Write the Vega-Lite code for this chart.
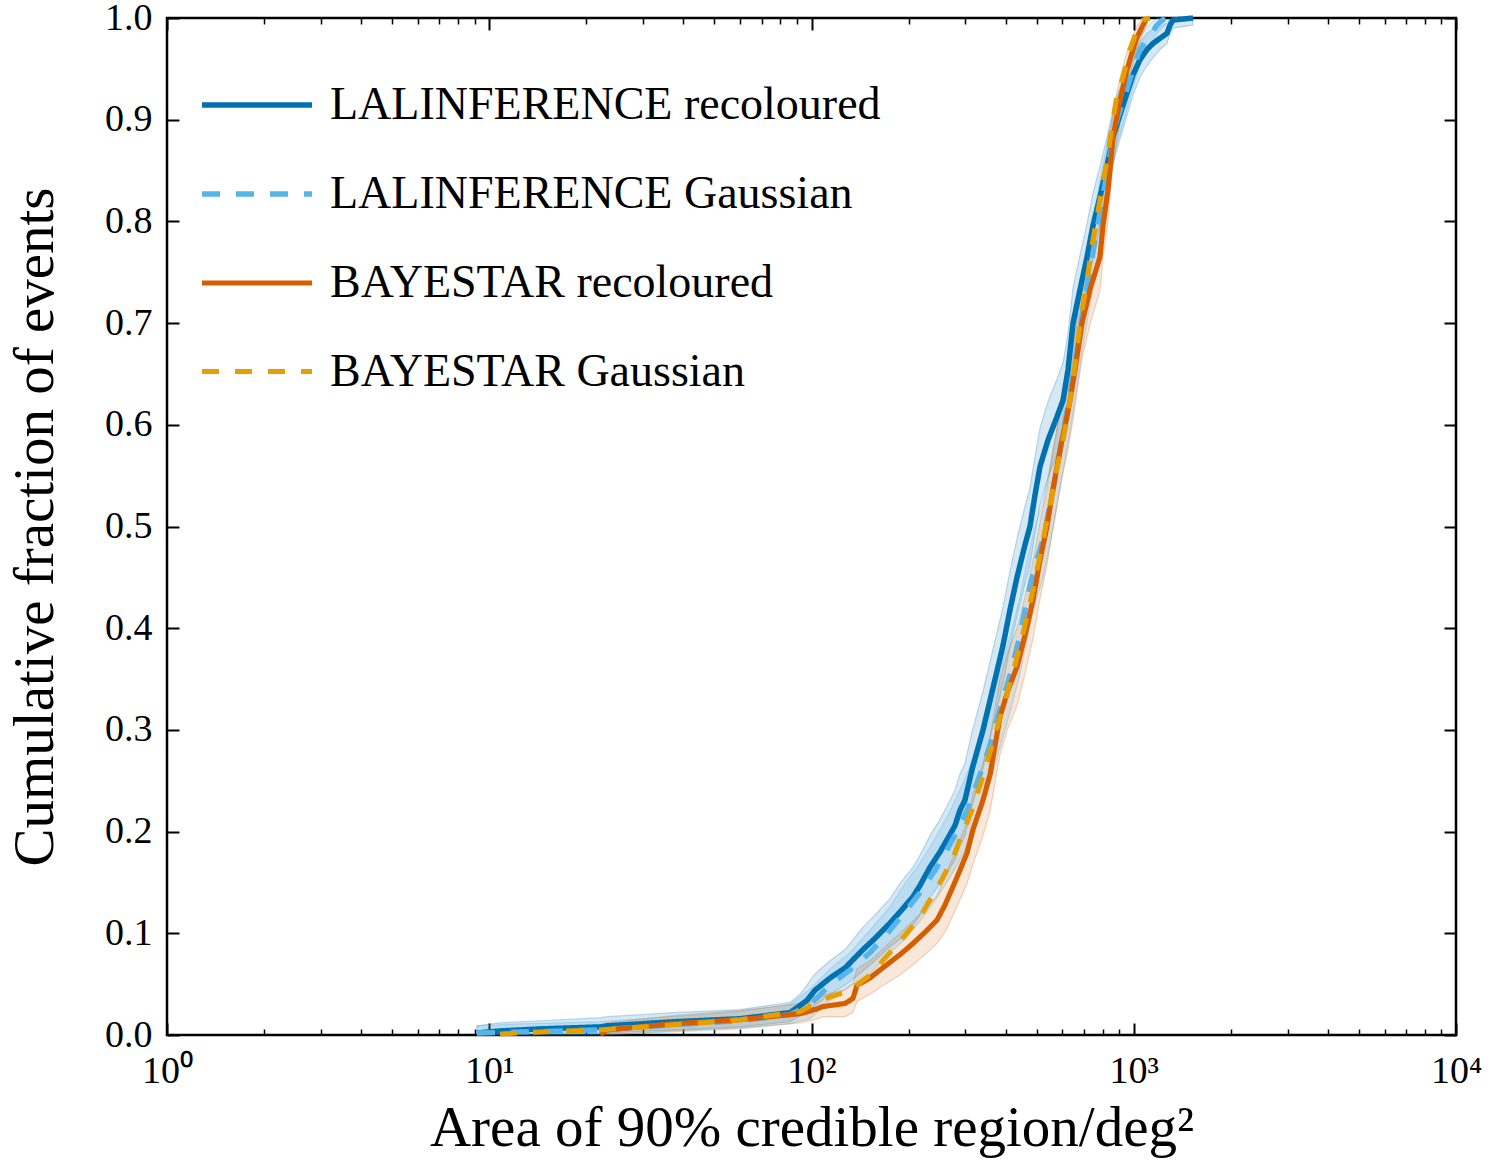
{
  "$schema": "https://vega.github.io/schema/vega-lite/v6.json",
  "width": 1289,
  "height": 1017,
  "autosize": {"type": "none"},
  "padding": {"left": 167, "top": 18, "right": 45, "bottom": 125},
  "background": "white",
  "config": {
    "view": {"stroke": "black", "strokeWidth": 2.5},
    "font": "Liberation Serif",
    "axis": {"labelFont": "Liberation Serif", "titleFont": "Liberation Serif", "labelColor": "black", "titleColor": "black", "tickColor": "black", "grid": false, "domain": false, "titleFontWeight": "normal"}
  },
  "datasets": {
    "curves": [
      {"s":"LALINFERENCE recoloured","A":9.16,"F":0.002,"lo":0,"hi":0.009},
      {"s":"LALINFERENCE recoloured","A":10.8,"F":0.004,"lo":0,"hi":0.012},
      {"s":"LALINFERENCE recoloured","A":14.4,"F":0.006,"lo":0,"hi":0.014},
      {"s":"LALINFERENCE recoloured","A":22.1,"F":0.008,"lo":0.001,"hi":0.017},
      {"s":"LALINFERENCE recoloured","A":23.2,"F":0.009,"lo":0.002,"hi":0.018},
      {"s":"LALINFERENCE recoloured","A":37.2,"F":0.013,"lo":0.005,"hi":0.022},
      {"s":"LALINFERENCE recoloured","A":60.0,"F":0.016,"lo":0.008,"hi":0.025},
      {"s":"LALINFERENCE recoloured","A":85.8,"F":0.022,"lo":0.013,"hi":0.032},
      {"s":"LALINFERENCE recoloured","A":92.1,"F":0.029,"lo":0.019,"hi":0.040},
      {"s":"LALINFERENCE recoloured","A":96.8,"F":0.034,"lo":0.020,"hi":0.049},
      {"s":"LALINFERENCE recoloured","A":102.5,"F":0.044,"lo":0.029,"hi":0.060},
      {"s":"LALINFERENCE recoloured","A":114.1,"F":0.056,"lo":0.040,"hi":0.073},
      {"s":"LALINFERENCE recoloured","A":127.1,"F":0.066,"lo":0.049,"hi":0.084},
      {"s":"LALINFERENCE recoloured","A":144.5,"F":0.084,"lo":0.063,"hi":0.106},
      {"s":"LALINFERENCE recoloured","A":157.4,"F":0.095,"lo":0.073,"hi":0.118},
      {"s":"LALINFERENCE recoloured","A":175.2,"F":0.110,"lo":0.087,"hi":0.134},
      {"s":"LALINFERENCE recoloured","A":188.2,"F":0.121,"lo":0.094,"hi":0.149},
      {"s":"LALINFERENCE recoloured","A":206.5,"F":0.136,"lo":0.108,"hi":0.165},
      {"s":"LALINFERENCE recoloured","A":217.1,"F":0.147,"lo":0.118,"hi":0.177},
      {"s":"LALINFERENCE recoloured","A":233.2,"F":0.165,"lo":0.135,"hi":0.196},
      {"s":"LALINFERENCE recoloured","A":250.5,"F":0.180,"lo":0.149,"hi":0.212},
      {"s":"LALINFERENCE recoloured","A":263.4,"F":0.192,"lo":0.160,"hi":0.225},
      {"s":"LALINFERENCE recoloured","A":278.8,"F":0.206,"lo":0.172,"hi":0.241},
      {"s":"LALINFERENCE recoloured","A":288.9,"F":0.221,"lo":0.186,"hi":0.257},
      {"s":"LALINFERENCE recoloured","A":299.4,"F":0.231,"lo":0.196,"hi":0.267},
      {"s":"LALINFERENCE recoloured","A":314.8,"F":0.261,"lo":0.225,"hi":0.298},
      {"s":"LALINFERENCE recoloured","A":340.6,"F":0.300,"lo":0.263,"hi":0.338},
      {"s":"LALINFERENCE recoloured","A":358.1,"F":0.329,"lo":0.292,"hi":0.367},
      {"s":"LALINFERENCE recoloured","A":392.9,"F":0.383,"lo":0.346,"hi":0.421},
      {"s":"LALINFERENCE recoloured","A":413.0,"F":0.418,"lo":0.381,"hi":0.456},
      {"s":"LALINFERENCE recoloured","A":434.2,"F":0.450,"lo":0.412,"hi":0.488},
      {"s":"LALINFERENCE recoloured","A":459.8,"F":0.482,"lo":0.444,"hi":0.520},
      {"s":"LALINFERENCE recoloured","A":476.4,"F":0.500,"lo":0.462,"hi":0.538},
      {"s":"LALINFERENCE recoloured","A":493.8,"F":0.531,"lo":0.493,"hi":0.569},
      {"s":"LALINFERENCE recoloured","A":511.9,"F":0.559,"lo":0.521,"hi":0.597},
      {"s":"LALINFERENCE recoloured","A":541.9,"F":0.585,"lo":0.548,"hi":0.623},
      {"s":"LALINFERENCE recoloured","A":577.9,"F":0.608,"lo":0.571,"hi":0.645},
      {"s":"LALINFERENCE recoloured","A":603.2,"F":0.624,"lo":0.587,"hi":0.661},
      {"s":"LALINFERENCE recoloured","A":625.2,"F":0.654,"lo":0.618,"hi":0.690},
      {"s":"LALINFERENCE recoloured","A":648.0,"F":0.700,"lo":0.665,"hi":0.735},
      {"s":"LALINFERENCE recoloured","A":681.3,"F":0.733,"lo":0.699,"hi":0.767},
      {"s":"LALINFERENCE recoloured","A":716.2,"F":0.765,"lo":0.732,"hi":0.798},
      {"s":"LALINFERENCE recoloured","A":747.3,"F":0.796,"lo":0.764,"hi":0.828},
      {"s":"LALINFERENCE recoloured","A":785.6,"F":0.824,"lo":0.794,"hi":0.854},
      {"s":"LALINFERENCE recoloured","A":826.0,"F":0.855,"lo":0.827,"hi":0.883},
      {"s":"LALINFERENCE recoloured","A":862.2,"F":0.883,"lo":0.857,"hi":0.909},
      {"s":"LALINFERENCE recoloured","A":906.4,"F":0.905,"lo":0.881,"hi":0.929},
      {"s":"LALINFERENCE recoloured","A":952.8,"F":0.926,"lo":0.904,"hi":0.948},
      {"s":"LALINFERENCE recoloured","A":994.7,"F":0.944,"lo":0.924,"hi":0.964},
      {"s":"LALINFERENCE recoloured","A":1045.6,"F":0.959,"lo":0.942,"hi":0.976},
      {"s":"LALINFERENCE recoloured","A":1099.2,"F":0.969,"lo":0.953,"hi":0.985},
      {"s":"LALINFERENCE recoloured","A":1147.6,"F":0.975,"lo":0.961,"hi":0.989},
      {"s":"LALINFERENCE recoloured","A":1206.4,"F":0.980,"lo":0.969,"hi":0.991},
      {"s":"LALINFERENCE recoloured","A":1268.5,"F":0.985,"lo":0.975,"hi":0.995},
      {"s":"LALINFERENCE recoloured","A":1296,"F":0.993,"lo":0.985,"hi":1.0},
      {"s":"LALINFERENCE recoloured","A":1324,"F":0.998,"lo":0.990,"hi":1.0},
      {"s":"LALINFERENCE recoloured","A":1527,"F":1.0,"lo":0.993,"hi":1.0},

      {"s":"LALINFERENCE Gaussian","A":9.16,"F":0.002,"lo":0,"hi":0.009},
      {"s":"LALINFERENCE Gaussian","A":12.46,"F":0.003,"lo":0,"hi":0.011},
      {"s":"LALINFERENCE Gaussian","A":22.1,"F":0.005,"lo":0,"hi":0.013},
      {"s":"LALINFERENCE Gaussian","A":37.2,"F":0.010,"lo":0.003,"hi":0.018},
      {"s":"LALINFERENCE Gaussian","A":60.0,"F":0.014,"lo":0.006,"hi":0.023},
      {"s":"LALINFERENCE Gaussian","A":85.8,"F":0.020,"lo":0.011,"hi":0.030},
      {"s":"LALINFERENCE Gaussian","A":98.9,"F":0.030,"lo":0.016,"hi":0.045},
      {"s":"LALINFERENCE Gaussian","A":114.1,"F":0.049,"lo":0.034,"hi":0.065},
      {"s":"LALINFERENCE Gaussian","A":131.7,"F":0.064,"lo":0.048,"hi":0.081},
      {"s":"LALINFERENCE Gaussian","A":151.9,"F":0.081,"lo":0.060,"hi":0.103},
      {"s":"LALINFERENCE Gaussian","A":175.2,"F":0.103,"lo":0.081,"hi":0.126},
      {"s":"LALINFERENCE Gaussian","A":195.1,"F":0.121,"lo":0.094,"hi":0.149},
      {"s":"LALINFERENCE Gaussian","A":217.1,"F":0.140,"lo":0.112,"hi":0.169},
      {"s":"LALINFERENCE Gaussian","A":241.7,"F":0.162,"lo":0.132,"hi":0.193},
      {"s":"LALINFERENCE Gaussian","A":265.2,"F":0.184,"lo":0.152,"hi":0.216},
      {"s":"LALINFERENCE Gaussian","A":284.9,"F":0.202,"lo":0.168,"hi":0.237},
      {"s":"LALINFERENCE Gaussian","A":306.0,"F":0.223,"lo":0.188,"hi":0.259},
      {"s":"LALINFERENCE Gaussian","A":333.4,"F":0.256,"lo":0.220,"hi":0.293},
      {"s":"LALINFERENCE Gaussian","A":358.1,"F":0.285,"lo":0.248,"hi":0.323},
      {"s":"LALINFERENCE Gaussian","A":384.6,"F":0.320,"lo":0.283,"hi":0.358},
      {"s":"LALINFERENCE Gaussian","A":413.0,"F":0.354,"lo":0.317,"hi":0.392},
      {"s":"LALINFERENCE Gaussian","A":443.6,"F":0.393,"lo":0.355,"hi":0.431},
      {"s":"LALINFERENCE Gaussian","A":466.4,"F":0.428,"lo":0.390,"hi":0.466},
      {"s":"LALINFERENCE Gaussian","A":493.8,"F":0.462,"lo":0.424,"hi":0.500},
      {"s":"LALINFERENCE Gaussian","A":522.8,"F":0.487,"lo":0.449,"hi":0.525},
      {"s":"LALINFERENCE Gaussian","A":549.6,"F":0.521,"lo":0.483,"hi":0.559},
      {"s":"LALINFERENCE Gaussian","A":569.5,"F":0.546,"lo":0.508,"hi":0.584},
      {"s":"LALINFERENCE Gaussian","A":603.2,"F":0.592,"lo":0.555,"hi":0.629},
      {"s":"LALINFERENCE Gaussian","A":634.2,"F":0.629,"lo":0.593,"hi":0.666},
      {"s":"LALINFERENCE Gaussian","A":666.9,"F":0.674,"lo":0.638,"hi":0.710},
      {"s":"LALINFERENCE Gaussian","A":696.0,"F":0.713,"lo":0.678,"hi":0.748},
      {"s":"LALINFERENCE Gaussian","A":731.5,"F":0.752,"lo":0.718,"hi":0.786},
      {"s":"LALINFERENCE Gaussian","A":769.0,"F":0.792,"lo":0.760,"hi":0.824},
      {"s":"LALINFERENCE Gaussian","A":802.9,"F":0.826,"lo":0.796,"hi":0.856},
      {"s":"LALINFERENCE Gaussian","A":843.8,"F":0.865,"lo":0.838,"hi":0.892},
      {"s":"LALINFERENCE Gaussian","A":887.2,"F":0.900,"lo":0.876,"hi":0.924},
      {"s":"LALINFERENCE Gaussian","A":939.4,"F":0.924,"lo":0.903,"hi":0.945},
      {"s":"LALINFERENCE Gaussian","A":994.7,"F":0.949,"lo":0.931,"hi":0.967},
      {"s":"LALINFERENCE Gaussian","A":1045.6,"F":0.969,"lo":0.955,"hi":0.983},
      {"s":"LALINFERENCE Gaussian","A":1123.0,"F":0.983,"lo":0.972,"hi":0.994},
      {"s":"LALINFERENCE Gaussian","A":1180.5,"F":0.993,"lo":0.985,"hi":1.0},
      {"s":"LALINFERENCE Gaussian","A":1250.4,"F":1.0,"lo":0.993,"hi":1.0},

      {"s":"BAYESTAR recoloured","A":22.1,"F":0.001,"lo":0,"hi":0.008},
      {"s":"BAYESTAR recoloured","A":23.2,"F":0.005,"lo":0,"hi":0.012},
      {"s":"BAYESTAR recoloured","A":37.2,"F":0.011,"lo":0.004,"hi":0.019},
      {"s":"BAYESTAR recoloured","A":60.0,"F":0.015,"lo":0.007,"hi":0.024},
      {"s":"BAYESTAR recoloured","A":92.1,"F":0.021,"lo":0.012,"hi":0.031},
      {"s":"BAYESTAR recoloured","A":102.5,"F":0.025,"lo":0.015,"hi":0.035},
      {"s":"BAYESTAR recoloured","A":108.6,"F":0.028,"lo":0.018,"hi":0.039},
      {"s":"BAYESTAR recoloured","A":127.1,"F":0.031,"lo":0.018,"hi":0.045},
      {"s":"BAYESTAR recoloured","A":134.5,"F":0.036,"lo":0.022,"hi":0.051},
      {"s":"BAYESTAR recoloured","A":138.4,"F":0.049,"lo":0.033,"hi":0.065},
      {"s":"BAYESTAR recoloured","A":151.9,"F":0.056,"lo":0.040,"hi":0.073},
      {"s":"BAYESTAR recoloured","A":163.2,"F":0.064,"lo":0.047,"hi":0.082},
      {"s":"BAYESTAR recoloured","A":188.2,"F":0.079,"lo":0.059,"hi":0.100},
      {"s":"BAYESTAR recoloured","A":206.5,"F":0.090,"lo":0.069,"hi":0.112},
      {"s":"BAYESTAR recoloured","A":225.0,"F":0.101,"lo":0.079,"hi":0.124},
      {"s":"BAYESTAR recoloured","A":245.2,"F":0.113,"lo":0.090,"hi":0.137},
      {"s":"BAYESTAR recoloured","A":259.6,"F":0.128,"lo":0.101,"hi":0.156},
      {"s":"BAYESTAR recoloured","A":274.9,"F":0.146,"lo":0.118,"hi":0.175},
      {"s":"BAYESTAR recoloured","A":288.9,"F":0.162,"lo":0.133,"hi":0.192},
      {"s":"BAYESTAR recoloured","A":303.8,"F":0.179,"lo":0.149,"hi":0.210},
      {"s":"BAYESTAR recoloured","A":317.1,"F":0.202,"lo":0.168,"hi":0.237},
      {"s":"BAYESTAR recoloured","A":340.6,"F":0.231,"lo":0.196,"hi":0.267},
      {"s":"BAYESTAR recoloured","A":358.1,"F":0.256,"lo":0.220,"hi":0.293},
      {"s":"BAYESTAR recoloured","A":384.6,"F":0.313,"lo":0.276,"hi":0.351},
      {"s":"BAYESTAR recoloured","A":407.2,"F":0.339,"lo":0.302,"hi":0.377},
      {"s":"BAYESTAR recoloured","A":434.2,"F":0.362,"lo":0.324,"hi":0.400},
      {"s":"BAYESTAR recoloured","A":459.8,"F":0.393,"lo":0.355,"hi":0.431},
      {"s":"BAYESTAR recoloured","A":486.9,"F":0.428,"lo":0.390,"hi":0.466},
      {"s":"BAYESTAR recoloured","A":511.9,"F":0.467,"lo":0.429,"hi":0.505},
      {"s":"BAYESTAR recoloured","A":538.0,"F":0.500,"lo":0.462,"hi":0.538},
      {"s":"BAYESTAR recoloured","A":557.6,"F":0.531,"lo":0.493,"hi":0.569},
      {"s":"BAYESTAR recoloured","A":577.9,"F":0.559,"lo":0.521,"hi":0.597},
      {"s":"BAYESTAR recoloured","A":598.9,"F":0.585,"lo":0.548,"hi":0.623},
      {"s":"BAYESTAR recoloured","A":620.8,"F":0.608,"lo":0.571,"hi":0.645},
      {"s":"BAYESTAR recoloured","A":634.2,"F":0.624,"lo":0.587,"hi":0.661},
      {"s":"BAYESTAR recoloured","A":657.4,"F":0.654,"lo":0.618,"hi":0.690},
      {"s":"BAYESTAR recoloured","A":691.0,"F":0.700,"lo":0.665,"hi":0.735},
      {"s":"BAYESTAR recoloured","A":731.5,"F":0.733,"lo":0.699,"hi":0.767},
      {"s":"BAYESTAR recoloured","A":785.6,"F":0.765,"lo":0.732,"hi":0.798},
      {"s":"BAYESTAR recoloured","A":802.9,"F":0.796,"lo":0.764,"hi":0.828},
      {"s":"BAYESTAR recoloured","A":832.2,"F":0.831,"lo":0.802,"hi":0.860},
      {"s":"BAYESTAR recoloured","A":862.2,"F":0.883,"lo":0.857,"hi":0.909},
      {"s":"BAYESTAR recoloured","A":906.4,"F":0.919,"lo":0.897,"hi":0.941},
      {"s":"BAYESTAR recoloured","A":952.8,"F":0.949,"lo":0.931,"hi":0.967},
      {"s":"BAYESTAR recoloured","A":994.7,"F":0.969,"lo":0.955,"hi":0.983},
      {"s":"BAYESTAR recoloured","A":1023.5,"F":0.981,"lo":0.970,"hi":0.992},
      {"s":"BAYESTAR recoloured","A":1068.4,"F":0.993,"lo":0.985,"hi":1.0},
      {"s":"BAYESTAR recoloured","A":1099.2,"F":1.0,"lo":0.993,"hi":1.0},

      {"s":"BAYESTAR Gaussian","A":10.8,"F":0.001},
      {"s":"BAYESTAR Gaussian","A":14.4,"F":0.003},
      {"s":"BAYESTAR Gaussian","A":22.1,"F":0.005},
      {"s":"BAYESTAR Gaussian","A":37.2,"F":0.010},
      {"s":"BAYESTAR Gaussian","A":60.0,"F":0.015},
      {"s":"BAYESTAR Gaussian","A":92.1,"F":0.023},
      {"s":"BAYESTAR Gaussian","A":106.3,"F":0.034},
      {"s":"BAYESTAR Gaussian","A":131.7,"F":0.044},
      {"s":"BAYESTAR Gaussian","A":151.9,"F":0.059},
      {"s":"BAYESTAR Gaussian","A":175.2,"F":0.081},
      {"s":"BAYESTAR Gaussian","A":195.1,"F":0.098},
      {"s":"BAYESTAR Gaussian","A":217.1,"F":0.116},
      {"s":"BAYESTAR Gaussian","A":233.2,"F":0.133},
      {"s":"BAYESTAR Gaussian","A":255.9,"F":0.155},
      {"s":"BAYESTAR Gaussian","A":272.9,"F":0.172},
      {"s":"BAYESTAR Gaussian","A":288.9,"F":0.192},
      {"s":"BAYESTAR Gaussian","A":303.8,"F":0.209},
      {"s":"BAYESTAR Gaussian","A":317.1,"F":0.224},
      {"s":"BAYESTAR Gaussian","A":345.4,"F":0.261},
      {"s":"BAYESTAR Gaussian","A":371.0,"F":0.295},
      {"s":"BAYESTAR Gaussian","A":398.6,"F":0.329},
      {"s":"BAYESTAR Gaussian","A":428.1,"F":0.364},
      {"s":"BAYESTAR Gaussian","A":459.8,"F":0.403},
      {"s":"BAYESTAR Gaussian","A":486.9,"F":0.438},
      {"s":"BAYESTAR Gaussian","A":511.9,"F":0.472},
      {"s":"BAYESTAR Gaussian","A":538.0,"F":0.506},
      {"s":"BAYESTAR Gaussian","A":561.5,"F":0.536},
      {"s":"BAYESTAR Gaussian","A":582.1,"F":0.562},
      {"s":"BAYESTAR Gaussian","A":612.1,"F":0.595},
      {"s":"BAYESTAR Gaussian","A":634.2,"F":0.624},
      {"s":"BAYESTAR Gaussian","A":657.4,"F":0.659},
      {"s":"BAYESTAR Gaussian","A":681.3,"F":0.700},
      {"s":"BAYESTAR Gaussian","A":716.2,"F":0.742},
      {"s":"BAYESTAR Gaussian","A":747.3,"F":0.782},
      {"s":"BAYESTAR Gaussian","A":785.6,"F":0.821},
      {"s":"BAYESTAR Gaussian","A":826.0,"F":0.860},
      {"s":"BAYESTAR Gaussian","A":862.2,"F":0.900},
      {"s":"BAYESTAR Gaussian","A":887.2,"F":0.924},
      {"s":"BAYESTAR Gaussian","A":926.1,"F":0.942},
      {"s":"BAYESTAR Gaussian","A":973.6,"F":0.969},
      {"s":"BAYESTAR Gaussian","A":1023.5,"F":0.988},
      {"s":"BAYESTAR Gaussian","A":1068.4,"F":0.998},
      {"s":"BAYESTAR Gaussian","A":1123.0,"F":1.0}
    ]
  },
  "data": {"name": "curves"},
  "layer": [
    {
      "transform": [{"filter": "datum.s == 'LALINFERENCE recoloured'"}],
      "mark": {"type": "area", "fill": "#0072B2", "fillOpacity": 0.16, "stroke": "#0072B2", "strokeOpacity": 0.25, "strokeWidth": 1.2},
      "encoding": {
        "x": {"field": "A", "type": "quantitative",
              "scale": {"type": "log", "domain": [1, 10000], "nice": false},
              "axis": {"orient": "bottom", "values": [1, 10, 100, 1000, 10000],
                       "labelExpr": "'10' + ['⁰','¹','²','³','⁴'][round(log(datum.value)/LN10)]",
                       "labelFontSize": 38, "labelPadding": 29, "labelFlush": false, "labelOverlap": false,
                       "tickSize": -12, "tickWidth": 2,
                       "title": "Area of 90% credible region/deg²", "titleFontSize": 57, "titlePadding": 10}},
        "y": {"field": "lo", "type": "quantitative",
              "scale": {"domain": [0, 1], "nice": false},
              "axis": {"orient": "left", "values": [0, 0.1, 0.2, 0.3, 0.4, 0.5, 0.6, 0.7, 0.8, 0.9, 1.0],
                       "format": ".1f", "labelFontSize": 38, "labelPadding": 27, "labelFlush": false, "labelOverlap": false,
                       "tickSize": -12, "tickWidth": 2,
                       "title": "Cumulative fraction of events", "titleFontSize": 57, "titlePadding": 40}},
        "y2": {"field": "hi"}
      }
    },
    {
      "transform": [{"filter": "datum.s == 'LALINFERENCE Gaussian'"}],
      "mark": {"type": "area", "fill": "#56B4E9", "fillOpacity": 0.2, "stroke": "#56B4E9", "strokeOpacity": 0.3, "strokeWidth": 1.2},
      "encoding": {
        "x": {"field": "A", "type": "quantitative", "axis": null},
        "y": {"field": "lo", "type": "quantitative", "axis": null},
        "y2": {"field": "hi"}
      }
    },
    {
      "transform": [{"filter": "datum.s == 'BAYESTAR recoloured'"}],
      "mark": {"type": "area", "fill": "#D55E00", "fillOpacity": 0.15, "stroke": "#D55E00", "strokeOpacity": 0.25, "strokeWidth": 1.2},
      "encoding": {
        "x": {"field": "A", "type": "quantitative", "axis": null},
        "y": {"field": "lo", "type": "quantitative", "axis": null},
        "y2": {"field": "hi"}
      }
    },
    {
      "mark": {"type": "line", "strokeCap": "butt", "strokeJoin": "miter"},
      "encoding": {
        "x": {"field": "A", "type": "quantitative",
              "axis": {"orient": "top", "values": [1, 10, 100, 1000, 10000], "labels": false,
                       "tickSize": -12, "tickWidth": 2, "title": null}},
        "y": {"field": "F", "type": "quantitative",
              "axis": {"orient": "right", "values": [0, 0.1, 0.2, 0.3, 0.4, 0.5, 0.6, 0.7, 0.8, 0.9, 1.0], "labels": false,
                       "tickSize": -12, "tickWidth": 2, "title": null}},
        "order": {"field": "F", "type": "quantitative"},
        "stroke": {"field": "s", "type": "nominal",
                   "scale": {"domain": ["LALINFERENCE recoloured", "LALINFERENCE Gaussian", "BAYESTAR recoloured", "BAYESTAR Gaussian"],
                             "range": ["#0072B2", "#56B4E9", "#D55E00", "#E69F00"]},
                   "legend": {"title": null, "orient": "none", "legendX": 32, "legendY": 29, "symbolType": "stroke", "symbolSize": 12100,
                              "labelFont": "Liberation Serif", "labelFontSize": 46, "labelColor": "black", "labelOffset": 15,
                              "rowPadding": 8, "padding": 0, "labelLimit": 900}},
        "strokeDash": {"field": "s", "type": "nominal",
                       "scale": {"domain": ["LALINFERENCE recoloured", "LALINFERENCE Gaussian", "BAYESTAR recoloured", "BAYESTAR Gaussian"],
                                 "range": [[1, 0], [18, 16], [1, 0], [17, 16]]},
                       "legend": {"title": null, "orient": "none", "legendX": 32, "legendY": 29, "symbolType": "stroke", "symbolSize": 12100,
                              "labelFont": "Liberation Serif", "labelFontSize": 46, "labelColor": "black", "labelOffset": 15,
                              "rowPadding": 8, "padding": 0, "labelLimit": 900}},
        "strokeWidth": {"field": "s", "type": "nominal",
                        "scale": {"domain": ["LALINFERENCE recoloured", "LALINFERENCE Gaussian", "BAYESTAR recoloured", "BAYESTAR Gaussian"],
                                  "range": [5.5, 5, 2.8, 2.8]},
                        "legend": {"title": null, "orient": "none", "legendX": 32, "legendY": 29, "symbolType": "stroke", "symbolSize": 12100,
                              "labelFont": "Liberation Serif", "labelFontSize": 46, "labelColor": "black", "labelOffset": 15,
                              "rowPadding": 8, "padding": 0, "labelLimit": 900}}
      }
    },
    {
      "mark": {"type": "point", "opacity": 0},
      "encoding": {
        "x": {"field": "A", "type": "quantitative",
              "axis": {"orient": "bottom", "values": [2,3,4,5,6,7,8,9,20,30,40,50,60,70,80,90,200,300,400,500,600,700,800,900,2000,3000,4000,5000,6000,7000,8000,9000],
                       "labels": false, "tickSize": -6, "tickWidth": 1.5, "title": null}},
        "y": {"field": "F", "type": "quantitative", "axis": null}
      }
    },
    {
      "mark": {"type": "point", "opacity": 0},
      "encoding": {
        "x": {"field": "A", "type": "quantitative",
              "axis": {"orient": "top", "values": [2,3,4,5,6,7,8,9,20,30,40,50,60,70,80,90,200,300,400,500,600,700,800,900,2000,3000,4000,5000,6000,7000,8000,9000],
                       "labels": false, "tickSize": -6, "tickWidth": 1.5, "title": null}},
        "y": {"field": "F", "type": "quantitative", "axis": null}
      }
    }
  ],
  "resolve": {"axis": {"x": "independent", "y": "independent"}}
}
